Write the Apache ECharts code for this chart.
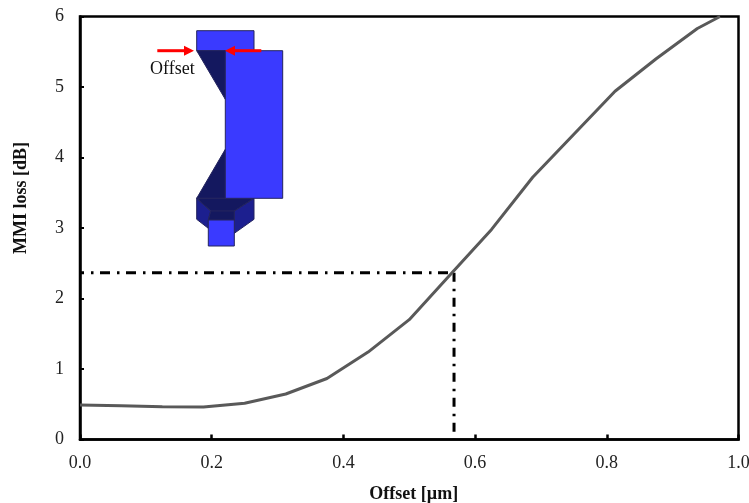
<!DOCTYPE html>
<html><head><meta charset="utf-8">
<style>html,body{margin:0;padding:0;background:#fff}#c{width:749px;height:503px}</style>
<script src="https://cdn.jsdelivr.net/npm/echarts@6/dist/echarts.min.js"></script>
</head><body><div id="c"></div>
<script>
const offsets=[0,0.0625,0.125,0.1875,0.25,0.3125,0.375,0.4375,0.5,0.5625,0.625,0.6875,0.75,0.8125,0.875,0.9375,0.972];
const lossDb=[0.49,0.48,0.465,0.46,0.515,0.645,0.865,1.24,1.70,2.34,2.98,3.72,4.33,4.94,5.40,5.83,6.0];
const markerX=0.568;
const markerY=2.366;
const FONT='"Liberation Serif","Times New Roman",serif';
const BLUE='#3a3aff',DARK='#14185f',MID='#1c1f8f',EDGE='#23235e',RED='#ff0000';
function poly(points,fill){return{type:'polygon',shape:{points},style:{fill,stroke:EDGE,lineWidth:1}}}
function rect(x,y,width,height){return{type:'rect',shape:{x,y,width,height},style:{fill:BLUE,stroke:EDGE,lineWidth:1}}}
function arrow(x0,x1,y){const d=x1>x0?1:-1;return[
 {type:'line',shape:{x1:x0,y1:y,x2:x1-d*8,y2:y},style:{stroke:RED,lineWidth:3}},
 {type:'polygon',shape:{points:[[x1,y],[x1-d*10,y-5],[x1-d*10,y+5]]},style:{fill:RED}}]}
const inset=[
 rect(196.7,30.7,57.3,20),
 poly([[196.7,50.7],[225.3,50.7],[225.3,99.3]],DARK),
 poly([[225.3,149.3],[225.3,198.3],[196.7,198.3]],DARK),
 poly([[196.7,198.3],[210.7,211],[208.3,220],[208.3,228.3],[196.7,219.3]],MID),
 poly([[254,198.3],[254,219.3],[234.3,233.3],[234.3,211]],MID),
 poly([[196.7,198.3],[254,198.3],[234.3,211],[210.7,211]],DARK),
 poly([[210.7,211],[234.3,211],[234.3,220],[208.3,220]],DARK),
 rect(208.3,220,26,26),
 rect(225.3,50.7,57.4,147.6),
 ...arrow(157.3,194,50.7),
 ...arrow(261.3,225,50.7),
 {type:'text',style:{x:150,y:69,text:'Offset',font:'18px '+FONT,fill:'#111',textVerticalAlign:'middle'}}
];
const refLine={type:'line',symbol:'none',silent:true,z:3,animation:false};
const chart=echarts.init(document.getElementById('c'),null,{renderer:'canvas'});
chart.setOption({
 animation:false,backgroundColor:'#fff',
 grid:{left:80,right:10.5,top:16.5,bottom:63.5,outerBoundsMode:'none',show:true,borderColor:'#000',borderWidth:2.5,backgroundColor:'transparent'},
 xAxis:{type:'value',min:0,max:1,interval:0.2,name:'Offset [µm]',nameLocation:'middle',nameGap:46,
  nameTextStyle:{fontFamily:FONT,fontSize:18,fontWeight:'bold',color:'#111',padding:[0,0,0,9]},
  axisLine:{show:true,onZero:false,lineStyle:{color:'#000',width:2.5}},
  axisTick:{show:true,inside:true,length:5,lineStyle:{color:'#000',width:2.5}},
  axisLabel:{fontFamily:FONT,fontSize:18,color:'#222',margin:15,hideOverlap:false,showMaxLabel:true,showMinLabel:true,formatter:v=>v.toFixed(1)},splitLine:{show:false}},
 yAxis:{type:'value',min:0,max:6,interval:1,name:'MMI loss [dB]',nameLocation:'middle',nameGap:50,
  nameTextStyle:{fontFamily:FONT,fontSize:18,fontWeight:'bold',color:'#111',padding:[0,0,0,60]},
  axisLine:{show:true,onZero:false,lineStyle:{color:'#000',width:2.5}},
  axisTick:{show:true,inside:true,length:4,lineStyle:{color:'#000',width:2}},
  axisLabel:{fontFamily:FONT,fontSize:18,color:'#222',margin:16},splitLine:{show:false}},
 series:[
  {...refLine,name:'h',data:[[0,markerY],[markerX,markerY]],lineStyle:{color:'#000',width:3,type:[10,7,2.5,6.5],dashOffset:6}},
  {...refLine,name:'v',data:[[markerX,markerY],[markerX,0]],lineStyle:{color:'#000',width:3,type:[9,7,2.5,6.5]}},
  {type:'line',name:'loss',symbol:'none',z:4,smooth:false,clip:false,data:offsets.map((x,i)=>[x,lossDb[i]]),lineStyle:{color:'#595959',width:3}}
 ],
 graphic:{elements:inset}
});
</script></body></html>
